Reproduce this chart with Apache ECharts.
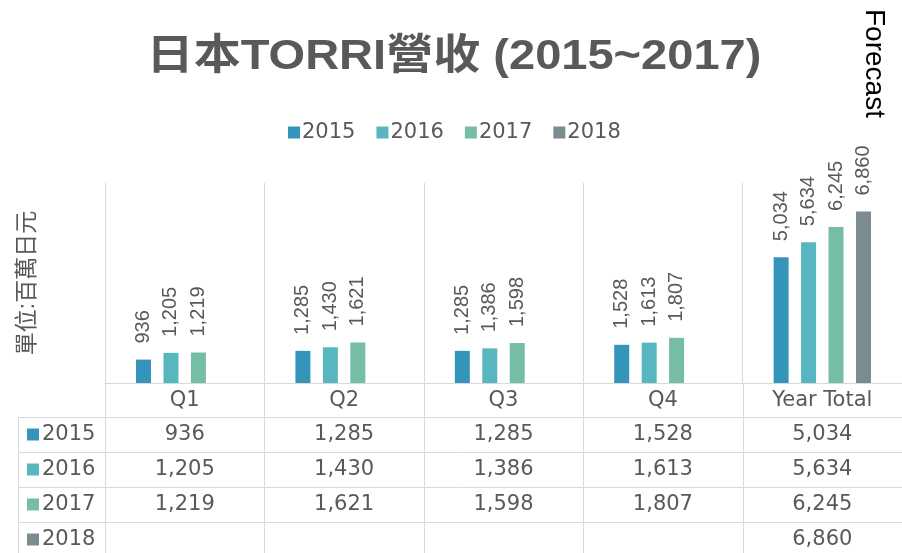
<!DOCTYPE html>
<html>
<head>
<meta charset="utf-8">
<script src="https://cdn.jsdelivr.net/npm/echarts@6/dist/echarts.min.js"></script>
<style>
  html, body { margin: 0; padding: 0; background: #fff; }
  #main { width: 902px; height: 553px; }
</style>
</head>
<body>
<div id="main"></div>
<script>
// 資料
const categories = ['Q1', 'Q2', 'Q3', 'Q4', 'Year Total'];
const years = ['2015', '2016', '2017', '2018'];
const sales2015 = [936, 1285, 1285, 1528, 5034];
const sales2016 = [1205, 1430, 1386, 1613, 5634];
const sales2017 = [1219, 1621, 1598, 1807, 6245];
const sales2018 = [null, null, null, null, 6860];
const allSales = [sales2015, sales2016, sales2017, sales2018];
const titleText = '日本TORRI營收 (2015~2017)';

const colors = ['#3494BA', '#58B6C0', '#75BDA7', '#7A8C8E'];
const gray = '#595959';
const lineColor = '#D9D9D9';
const font = '"Liberation Sans", Arial, "Noto Sans CJK TC", sans-serif';
const wideFont = '"DejaVu Sans", "Noto Sans CJK TC", sans-serif';

const fmt = v => (v == null ? '' : Number(v).toLocaleString('en-US'));

let chart = echarts.init(document.getElementById('main'));

const GRID_TOP = 183, GRID_BOTTOM = 383;

let option = {
    animation: false,
    color: colors,
    textStyle: { fontFamily: font },
    legend: {
        data: years,
        top: 117,
        left: 283,
        itemWidth: 12,
        itemHeight: 12,
        itemGap: 21,
        icon: 'rect',
        textStyle: { fontSize: 21, color: gray, fontFamily: wideFont, padding: [0, 0, 0, -3] }
    },
    grid: { left: 105, top: GRID_TOP, width: 798, height: GRID_BOTTOM - GRID_TOP },
    xAxis: {
        type: 'category',
        data: categories,
        axisTick: { show: false },
        axisLine: { lineStyle: { color: lineColor } },
        axisLabel: { fontSize: 21, color: gray, margin: 7, fontFamily: wideFont },
        splitLine: { show: true, lineStyle: { color: lineColor, width: 1 } }
    },
    yAxis: {
        type: 'value',
        min: 0,
        max: 8000,
        axisLine: { show: false },
        axisTick: { show: false },
        axisLabel: { show: false },
        splitLine: { show: false },
        name: '單位:百萬日元',
        nameLocation: 'middle',
        nameRotate: 90,
        nameGap: 66,
        nameTextStyle: { fontSize: 23, color: gray }
    },
    series: years.map((y, i) => ({
        name: y,
        type: 'bar',
        data: allSales[i],
        barWidth: 15,
        barGap: '83%',
        label: {
            show: true,
            position: 'top',
            rotate: 90,
            align: 'left',
            verticalAlign: 'middle',
            distance: 16,
            fontSize: 20,
            color: gray,
            formatter: p => fmt(p.value)
        }
    }))
};

chart.setOption(option);

// 表格 (data table) 依軸座標繪製
function buildTable() {
    const g = [];
    const rowTops = [417, 452, 487, 522];
    const rowH = 35;
    const bottom = 560;
    const px = i => chart.convertToPixel({ xAxisIndex: 0 }, i);
    const half = (px(1) - px(0)) / 2;
    const edges = [px(0) - half].concat(categories.map((c, i) => px(i) + half));

    // title (stretched like the original)
    g.push({ type: 'text', x: 454, y: 57, scaleX: 1.12, silent: true,
        style: { text: titleText, font: 'bold 42px ' + font, fill: gray, textAlign: 'center', textVerticalAlign: 'middle' } });

    edges.forEach(x => {
        g.push({ type: 'line', shape: { x1: Math.round(x) + 0.5, y1: GRID_BOTTOM, x2: Math.round(x) + 0.5, y2: bottom },
            style: { stroke: lineColor, lineWidth: 1 }, silent: true });
    });
    g.push({ type: 'line', shape: { x1: 18.5, y1: rowTops[0], x2: 18.5, y2: bottom },
        style: { stroke: lineColor, lineWidth: 1 }, silent: true });
    rowTops.forEach(y => {
        g.push({ type: 'line', shape: { x1: 18, y1: y + 0.5, x2: 903, y2: y + 0.5 },
            style: { stroke: lineColor, lineWidth: 1 }, silent: true });
    });
    years.forEach((yr, r) => {
        const cy = rowTops[r] + rowH / 2;
        g.push({ type: 'rect', shape: { x: 27, y: cy - 6, width: 12, height: 12 },
            style: { fill: colors[r] }, silent: true });
        g.push({ type: 'text', x: 42, y: cy, silent: true,
            style: { text: yr, font: '21px ' + wideFont, fill: gray, textAlign: 'left', textVerticalAlign: 'middle' } });
        allSales[r].forEach((v, c) => {
            if (v == null) return;
            g.push({ type: 'text', x: px(c), y: cy, silent: true,
                style: { text: fmt(v), font: '21px ' + wideFont, fill: gray, textAlign: 'center', textVerticalAlign: 'middle' } });
        });
    });
    // Forecast label above the 2018 bar
    g.push({ type: 'text', x: 874, y: 9, rotation: -Math.PI / 2, silent: true,
        style: { text: 'Forecast', font: '28px ' + font, fill: '#000', textAlign: 'left', textVerticalAlign: 'middle' } });
    return g;
}

chart.setOption({ graphic: buildTable() });
</script>
</body>
</html>
